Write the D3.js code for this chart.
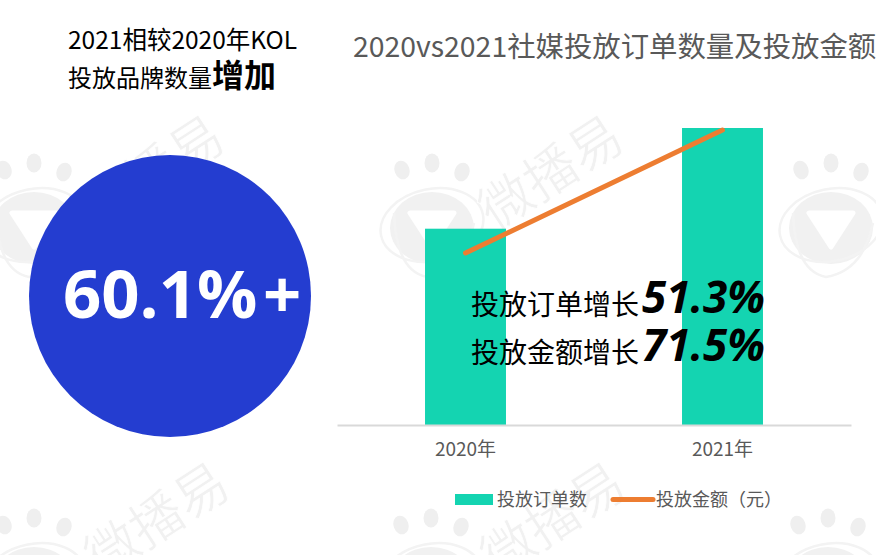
<!DOCTYPE html>
<html>
<head>
<meta charset="utf-8">
<script src="https://d3js.org/d3.v7.min.js"></script>
<style>
html, body { margin: 0; padding: 0; background: #fff; }
svg { display: block; }
text { font-family: "Noto Sans CJK SC", "Open Sans", sans-serif; }
</style>
</head>
<body>
<script>
var w = 876, h = 555;

var years = ['2020年', '2021年'];
var orders = [100, 151.3];      // indexed, 2020 = 100
var amounts = [100, 171.5];     // indexed, 2020 = 100
var seriesNames = ['投放订单数', '投放金额（元）'];
var chartTitle = '2020vs2021社媒投放订单数量及投放金额';
var growthLabels = ['投放订单增长', '投放金额增长'];
var growthValues = ['51.3%', '71.5%'];

var svg = d3.select('body').append('svg').attr('width', w).attr('height', h);

// watermark
var logoSpots = [[34, 163], [432, 163], [831, 163], [34, 518], [431, 518], [828, 518]];
var wmTextSpots = [[152, 173], [551, 173], [157, 520], [553, 520]];

function logo(g) {
	g.append('ellipse').attr('cx', 0).attr('cy', 65).attr('rx', 42).attr('ry', 36)
		.attr('fill', '#f1f1f1');
	g.append('ellipse').attr('cx', 0).attr('cy', 62).attr('rx', 52).attr('ry', 36)
		.attr('transform', 'rotate(-12 0 62)').attr('fill', 'none')
		.attr('stroke', '#f3f3f3').attr('stroke-width', 2.5);
	g.append('path').attr('d', 'M-38,50 Q-36,108 -5,114 Q32,108 42,60').attr('fill', 'none')
		.attr('stroke', '#f3f3f3').attr('stroke-width', 2.5);
	g.append('path').attr('d', 'M-22,50 L22,50 L0,84 Z').attr('fill', '#fff')
		.attr('stroke', '#fff').attr('stroke-width', 5).attr('stroke-linejoin', 'round');
	[[-30, 7, -20], [0, 0, 0], [30, 9, 20]].forEach(function(d) {
		g.append('ellipse').attr('cx', d[0]).attr('cy', d[1]).attr('rx', 7.5).attr('ry', 9.5)
			.attr('transform', 'rotate(' + d[2] + ' ' + d[0] + ' ' + d[1] + ')')
			.attr('fill', '#efefef');
	});
}

var wm = svg.append('g');
logoSpots.forEach(function(p) {
	logo(wm.append('g').attr('transform', 'translate(' + p[0] + ',' + p[1] + ')'));
});
wmTextSpots.forEach(function(p) {
	wm.append('text').text('微播易')
		.attr('transform', 'translate(' + p[0] + ',' + p[1] + ') rotate(-33)')
		.attr('text-anchor', 'middle').attr('dy', '0.35em')
		.style('font-size', '53px').attr('fill', '#f1f1f1')
		.attr('stroke', '#fff').attr('stroke-width', 0.7);
});

// left panel
svg.append('text').text('2021相较2020年KOL').attr('x', 68).attr('y', 49)
	.style('font-size', '24.5px').attr('fill', '#000');
var leftLine = svg.append('text').attr('x', 68).attr('y', 87)
	.style('font-size', '24px').attr('fill', '#000');
leftLine.append('tspan').text('投放品牌数量');
leftLine.append('tspan').text('增加').style('font-size', '32px').style('font-weight', 700);

svg.append('circle').attr('cx', 170).attr('cy', 296).attr('r', 141).attr('fill', '#243dd0');
svg.append('text').text('60.1%').attr('x', 63).attr('y', 318).attr('fill', '#fff')
	.style('font-size', '67px').style('font-weight', 700)
	.style('font-family', '"Open Sans", sans-serif');
svg.append('text').text('+').attr('x', 263).attr('y', 318).attr('fill', '#fff')
	.style('font-size', '67px').style('font-weight', 700)
	.style('font-family', '"Open Sans", sans-serif');

// chart
var x = d3.scaleBand().domain(years).range([337, 851]).paddingInner(0.685).paddingOuter(0.3425);
var yOrders = d3.scaleLinear().domain([0, 151.3]).range([425, 128]);
var yAmounts = d3.scaleLinear().domain([0, 171.5]).range([425, 130]);

svg.append('text').text(chartTitle).attr('x', 353).attr('y', 57)
	.style('font-size', '28.4px').attr('fill', '#595959');

svg.selectAll('rect.bar').data(orders).enter().append('rect').attr('class', 'bar')
	.attr('x', function(d, i) { return x(years[i]); })
	.attr('y', function(d) { return yOrders(d); })
	.attr('width', x.bandwidth())
	.attr('height', function(d) { return yOrders(0) - yOrders(d); })
	.attr('fill', '#14d4b1');

var axis = svg.append('g').attr('transform', 'translate(0,425)')
	.call(d3.axisBottom(x).tickSize(0).tickPadding(18));
axis.select('.domain').attr('stroke', '#d9d9d9').attr('stroke-width', 2);
axis.selectAll('text').style('font-size', '19px').attr('fill', '#595959')
	.style('font-family', '"Noto Sans CJK SC", sans-serif');

var line = d3.line()
	.x(function(d, i) { return x(years[i]) + x.bandwidth() / 2; })
	.y(function(d) { return yAmounts(d); });
svg.append('path').attr('d', line(amounts)).attr('fill', 'none')
	.attr('stroke', '#ed7d31').attr('stroke-width', 5).attr('stroke-linecap', 'round');

// growth callouts
growthLabels.forEach(function(label, i) {
	svg.append('text').text(label).attr('x', 471).attr('y', 315 + i * 48)
		.style('font-size', '28px').attr('fill', '#000');
	svg.append('text').text(growthValues[i]).attr('x', 642).attr('y', 313 + i * 48)
		.style('font-size', '44px').style('font-weight', 700).style('font-style', 'italic')
		.style('font-family', '"Open Sans", sans-serif').attr('fill', '#000');
});

// legend
svg.append('rect').attr('x', 455).attr('y', 494).attr('width', 38).attr('height', 11).attr('fill', '#14d4b1');
svg.append('text').text(seriesNames[0]).attr('x', 497).attr('y', 506)
	.style('font-size', '18px').attr('fill', '#595959');
svg.append('line').attr('x1', 613).attr('x2', 653).attr('y1', 499.5).attr('y2', 499.5)
	.attr('stroke', '#ed7d31').attr('stroke-width', 5).attr('stroke-linecap', 'round');
svg.append('text').text(seriesNames[1]).attr('x', 656).attr('y', 506)
	.style('font-size', '18px').attr('fill', '#595959');
</script>
</body>
</html>
